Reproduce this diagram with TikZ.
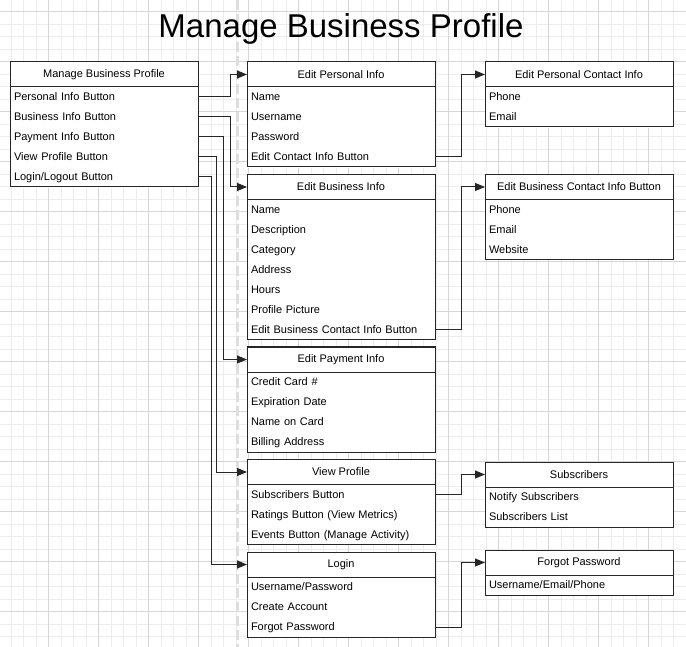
\documentclass[tikz,border=0pt]{standalone}
\usepackage{fontspec}
\setmainfont{Liberation Sans}
\usetikzlibrary{positioning,fit,arrows.meta}

\begin{document}
\begin{tikzpicture}[x=1pt,y=-1pt,>={Triangle[length=10pt,width=8pt]},
                    node distance=7.5pt,
                    hdr/.style={draw=black!85,fill=white,line width=1pt,minimum width=188pt,
                                minimum height=25pt,inner sep=0pt,outer sep=0pt,
                                font=\fontsize{11}{13}\selectfont},
                    item/.style={fill=white,draw=white,line width=0.6pt,text width=180pt,
                                 inner xsep=4pt,inner ysep=0pt,outer sep=0pt,minimum height=20pt,
                                 text height=9pt,text depth=1.5pt,
                                 align=left,font=\fontsize{11}{13}\selectfont},
                    boxframe/.style={draw=black!85,line width=1pt,inner sep=0pt,outer sep=0pt},
                    link/.style={->,draw=black!85,line width=1pt}]

  	% background grid
  	\useasboundingbox (0,0) rectangle (686,647);
  	\begin{scope}
  	\clip (0,0) rectangle (686,647);
  	\foreach \gx in {0,...,56} \draw[black!7,line width=1pt] ({-1.3+12.5*\gx},0) -- ({-1.3+12.5*\gx},647);
  	\foreach \gy in {0,...,53} \draw[black!7,line width=1pt] (0,{-0.8+12.5*\gy}) -- (686,{-0.8+12.5*\gy});
  	\foreach \gx in {0,...,14} \draw[black!16,line width=0.7pt] ({-1.3+50*\gx},0) -- ({-1.3+50*\gx},647);
  	\foreach \gy in {0,...,13} \draw[black!16,line width=0.7pt] (0,{11.7+50*\gy}) -- (686,{11.7+50*\gy});
  	\end{scope}
  	\draw[black!13,line width=3pt,dash pattern=on 10pt off 4pt] (237.5,0) -- (237.5,647);

  	\node[font=\fontsize{33}{40}\selectfont,anchor=base] (title) at (341,38) {Manage Business Profile};

  	% manage business profile
  	\node[hdr] (mbp) at (104,74.5)             	{Manage Business Profile};
  	\node[item] (mbp1) [below=0pt of mbp]      	{Personal Info Button};
  	\node[item] (mbp2) [below=0pt of mbp1]     	{Business Info Button};
  	\node[item] (mbp3) [below=0pt of mbp2]     	{Payment Info Button};
  	\node[item] (mbp4) [below=0pt of mbp3]     	{View Profile Button};
  	\node[item] (mbp5) [below=0pt of mbp4]     	{Login/Logout Button};
  	\node[boxframe,fit=(mbp1)(mbp5)] (mbpbox) {};

  	% edit personal info
  	\node[hdr] (epi) at (341,74.5)             	{Edit Personal Info};
  	\node[item] (epi1) [below=0pt of epi]      	{Name};
  	\node[item] (epi2) [below=0pt of epi1]     	{Username};
  	\node[item] (epi3) [below=0pt of epi2]     	{Password};
  	\node[item] (epi4) [below=0pt of epi3]     	{Edit Contact Info Button};
  	\node[boxframe,fit=(epi1)(epi4)] (epibox) {};

  	% edit business info
  	\node[hdr] (ebi) [below=of epibox]         	{Edit Business Info};
  	\node[item] (ebi1) [below=0pt of ebi]      	{Name};
  	\node[item] (ebi2) [below=0pt of ebi1]     	{Description};
  	\node[item] (ebi3) [below=0pt of ebi2]     	{Category};
  	\node[item] (ebi4) [below=0pt of ebi3]     	{Address};
  	\node[item] (ebi5) [below=0pt of ebi4]     	{Hours};
  	\node[item] (ebi6) [below=0pt of ebi5]     	{Profile Picture};
  	\node[item] (ebi7) [below=0pt of ebi6]     	{Edit Business Contact Info Button};
  	\node[boxframe,fit=(ebi1)(ebi7)] (ebibox) {};

  	% edit payment info
  	\node[hdr] (epay) [below=of ebibox]        	{Edit Payment Info};
  	\node[item] (epay1) [below=0pt of epay]    	{Credit Card \#};
  	\node[item] (epay2) [below=0pt of epay1]   	{Expiration Date};
  	\node[item] (epay3) [below=0pt of epay2]   	{Name on Card};
  	\node[item] (epay4) [below=0pt of epay3]   	{Billing Address};
  	\node[boxframe,fit=(epay1)(epay4)] (epaybox) {};

  	% view profile
  	\node[hdr] (vp) [below=of epaybox]         	{View Profile};
  	\node[item] (vp1) [below=0pt of vp]        	{Subscribers Button};
  	\node[item] (vp2) [below=0pt of vp1]       	{Ratings Button (View Metrics)};
  	\node[item] (vp3) [below=0pt of vp2]       	{Events Button (Manage Activity)};
  	\node[boxframe,fit=(vp1)(vp3)] (vpbox) {};

  	% login
  	\node[hdr] (lgn) [below=of vpbox]          	{Login};
  	\node[item] (lgn1) [below=0pt of lgn]      	{Username/Password};
  	\node[item] (lgn2) [below=0pt of lgn1]     	{Create Account};
  	\node[item] (lgn3) [below=0pt of lgn2]     	{Forgot Password};
  	\node[boxframe,fit=(lgn1)(lgn3)] (lgnbox) {};

  	% right column
  	\node[hdr] (epc) [right=50pt of epi]       	{Edit Personal Contact Info};
  	\node[item] (epc1) [below=0pt of epc]      	{Phone};
  	\node[item] (epc2) [below=0pt of epc1]     	{Email};
  	\node[boxframe,fit=(epc1)(epc2)] (epcbox) {};

  	\node[hdr] (ebc) [right=50pt of ebi]       	{Edit Business Contact Info Button};
  	\node[item] (ebc1) [below=0pt of ebc]      	{Phone};
  	\node[item] (ebc2) [below=0pt of ebc1]     	{Email};
  	\node[item] (ebc3) [below=0pt of ebc2]     	{Website};
  	\node[boxframe,fit=(ebc1)(ebc3)] (ebcbox) {};

  	\node[hdr] (subs) [right=50pt of vp,yshift=-2.5pt] {Subscribers};
  	\node[item] (subs1) [below=0pt of subs]    	{Notify Subscribers};
  	\node[item] (subs2) [below=0pt of subs1]   	{Subscribers List};
  	\node[boxframe,fit=(subs1)(subs2)] (subsbox) {};

  	\node[hdr] (fpw) [right=50pt of lgn,yshift=2pt] {Forgot Password};
  	\node[item] (fpw1) [below=0pt of fpw]      	{Username/Email/Phone};
  	\node[boxframe,fit=(fpw1)] (fpwbox) {};

  	% connectors
  	\draw[link] (mbp1.east) -- ++(32,0) |- (epi.west);
  	\draw[link] (mbp2.east) -- ++(32,0) |- (ebi.west);
  	\draw[link] (mbp3.east) -- ++(25,0) |- (epay.west);
  	\draw[link] (mbp4.east) -- ++(18,0) |- (vp.west);
  	\draw[link] (mbp5.east) -- ++(13,0) |- (lgn.west);

  	\draw[link] (epi4.east) -- ++(26,0) |- (epc.west);
  	\draw[link] (ebi7.east) -- ++(26,0) |- (ebc.west);
  	\draw[link] (vp1.east)  -- ++(26,0) |- (subs.west);
  	\draw[link] (lgn3.east) -- ++(26,0) |- (fpw.west);

\end{tikzpicture}
\end{document}
